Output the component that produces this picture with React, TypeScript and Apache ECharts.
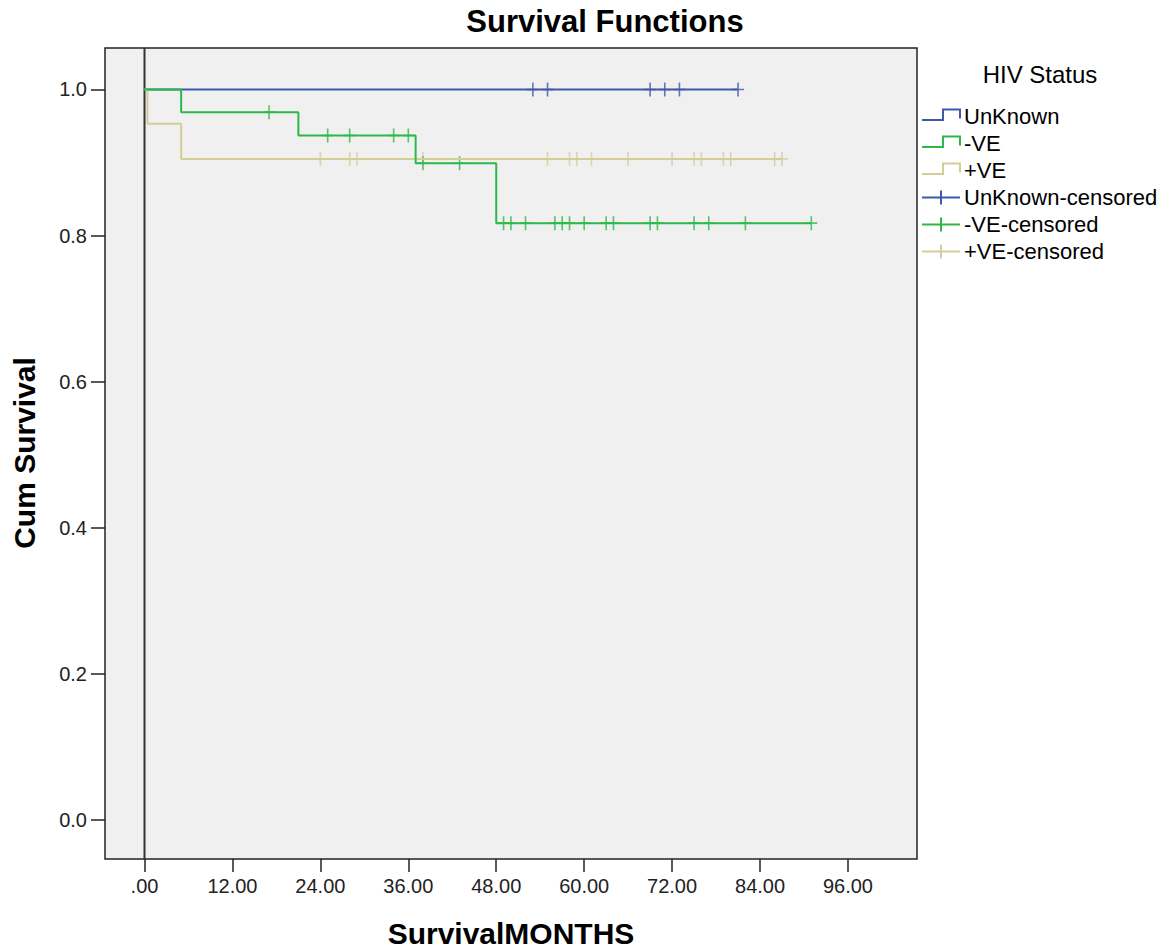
import React, { useEffect, useRef } from "react";
import * as echarts from "echarts";

// ---- Data ----
const xTicks = [0, 12, 24, 36, 48, 60, 72, 84, 96];
const yTicks = [0, 0.2, 0.4, 0.6, 0.8, 1.0];

const groupNames = ["UnKnown", "-VE", "+VE"];
const groupColors = ["#3E58AC", "#2EB848", "#D3CE97"];

// step curves: times at which the survival changes, and the survival from then on
const unknownTimes = [0, 81];
const unknownSurv = [1, 1];
const unknownCensored = [53, 55, 69, 71, 73, 81];

const negTimes = [0, 5, 21, 37, 48, 91];
const negSurv = [1, 0.969, 0.937, 0.899, 0.817, 0.817];
const negCensored = [17, 25, 28, 34, 36, 38, 43, 49, 50, 52, 56, 57, 58, 60, 63, 64, 69, 70, 75, 77, 82, 91];

const posTimes = [0, 0.4, 5, 87];
const posSurv = [1, 0.953, 0.905, 0.905];
const posCensored = [24, 28, 29, 38, 55, 58, 59, 61, 66, 72, 75, 76, 79, 80, 86, 87];

const X_MIN = -5.39;
const X_MAX = 105.42;
const Y_MIN = -0.0534;
const Y_MAX = 1.0568;

const FONT = "'Liberation Sans', Arial, sans-serif";
const PLUS =
  "path://M-0.8,-7 L0.8,-7 L0.8,-0.8 L6,-0.8 L6,0.8 L0.8,0.8 L0.8,7 L-0.8,7 L-0.8,0.8 L-6,0.8 L-6,-0.8 L-0.8,-0.8 Z";

function survAt(times: number[], surv: number[], t: number) {
  let v = surv[0];
  for (let i = 0; i < times.length; i++) {
    if (times[i] <= t) v = surv[i];
  }
  return v;
}

function stepSeries(times: number[], surv: number[], color: string) {
  return {
    type: "line",
    step: "end",
    data: times.map((t, i) => [t, surv[i]]),
    showSymbol: false,
    symbol: "none",
    lineStyle: { color, width: 2 },
    silent: true,
  };
}

function censorSeries(times: number[], surv: number[], cens: number[], color: string) {
  return {
    type: "scatter",
    data: cens.map((t) => [t, survAt(times, surv, t)]),
    symbol: PLUS,
    symbolSize: [12, 14],
    itemStyle: { color },
    silent: true,
  };
}

export default function App() {
  const ref = useRef<HTMLDivElement>(null);

  useEffect(() => {
    if (!ref.current) return;
    const chart = echarts.init(ref.current, undefined, { renderer: "svg" });

    const legendRows = [116.5, 143.5, 170.5, 197.5, 224.5, 251.5];
    const legendGraphics: any[] = [];
    legendGraphics.push({
      type: "text",
      x: 1040,
      y: 74,
      style: {
        text: "HIV Status",
        fill: "#000",
        font: `24px ${FONT}`,
        textAlign: "center",
        textVerticalAlign: "middle",
      },
    });
    groupNames.forEach((name, i) => {
      const yc = legendRows[i];
      legendGraphics.push({
        type: "polyline",
        shape: {
          points: [
            [922, yc + 3.5],
            [943, yc + 3.5],
            [943, yc - 7],
            [960, yc - 7],
            [960, yc + 2],
          ],
        },
        style: { stroke: groupColors[i], lineWidth: 2, fill: null },
      });
      legendGraphics.push({
        type: "text",
        x: 964,
        y: yc,
        style: {
          text: name,
          fill: "#000",
          font: `22px ${FONT}`,
          textAlign: "left",
          textVerticalAlign: "middle",
        },
      });
    });
    groupNames.forEach((name, i) => {
      const yc = legendRows[i + 3];
      legendGraphics.push({
        type: "line",
        shape: { x1: 922, y1: yc, x2: 960, y2: yc },
        style: { stroke: groupColors[i], lineWidth: 2 },
      });
      legendGraphics.push({
        type: "line",
        shape: { x1: 941, y1: yc - 7, x2: 941, y2: yc + 7 },
        style: { stroke: groupColors[i], lineWidth: 2 },
      });
      legendGraphics.push({
        type: "text",
        x: 964,
        y: yc,
        style: {
          text: name + "-censored",
          fill: "#000",
          font: `22px ${FONT}`,
          textAlign: "left",
          textVerticalAlign: "middle",
        },
      });
    });

    const option: any = {
      animation: false,
      backgroundColor: "#ffffff",
      grid: {
        left: 105,
        top: 48,
        width: 812,
        height: 811,
        show: true,
        backgroundColor: "#F0F0F0",
        borderColor: "#222",
        borderWidth: 1.5,
      },
      xAxis: {
        type: "value",
        min: X_MIN,
        max: X_MAX,
        axisLine: { show: false, onZero: false },
        splitLine: { show: false },
        axisTick: {
          show: true,
          customValues: xTicks,
          length: 13,
          lineStyle: { color: "#222", width: 1.5 },
        },
        axisLabel: {
          customValues: xTicks,
          margin: 17,
          color: "#222",
          fontSize: 20,
          fontFamily: FONT,
          formatter: (v: number) => (v === 0 ? ".00" : v.toFixed(2)),
        },
      },
      yAxis: {
        type: "value",
        min: Y_MIN,
        max: Y_MAX,
        axisLine: { show: false, onZero: false },
        splitLine: { show: false },
        axisTick: {
          show: true,
          customValues: yTicks,
          length: 14,
          lineStyle: { color: "#222", width: 1.5 },
        },
        axisLabel: {
          customValues: yTicks,
          margin: 18,
          color: "#222",
          fontSize: 20,
          fontFamily: FONT,
          formatter: (v: number) => v.toFixed(1),
        },
      },
      graphic: [
        {
          type: "text",
          x: 605,
          y: 21,
          style: {
            text: "Survival Functions",
            fill: "#000",
            font: `bold 31px ${FONT}`,
            textAlign: "center",
            textVerticalAlign: "middle",
          },
        },
        {
          type: "text",
          x: 511,
          y: 933,
          style: {
            text: "SurvivalMONTHS",
            fill: "#000",
            font: `bold 30px ${FONT}`,
            textAlign: "center",
            textVerticalAlign: "middle",
          },
        },
        {
          type: "text",
          x: 24,
          y: 453,
          rotation: Math.PI / 2,
          style: {
            text: "Cum Survival",
            fill: "#000",
            font: `bold 30px ${FONT}`,
            textAlign: "center",
            textVerticalAlign: "middle",
          },
        },
        ...legendGraphics,
      ],
      series: [
        {
          type: "line",
          data: [
            [0, Y_MIN],
            [0, Y_MAX],
          ],
          showSymbol: false,
          symbol: "none",
          lineStyle: { color: "#333", width: 2 },
          silent: true,
        },
        stepSeries(unknownTimes, unknownSurv, groupColors[0]),
        stepSeries(posTimes, posSurv, groupColors[2]),
        stepSeries(negTimes, negSurv, groupColors[1]),
        censorSeries(unknownTimes, unknownSurv, unknownCensored, groupColors[0]),
        censorSeries(posTimes, posSurv, posCensored, groupColors[2]),
        censorSeries(negTimes, negSurv, negCensored, groupColors[1]),
      ],
    };

    chart.setOption(option);
    return () => chart.dispose();
  }, []);

  return (
    <div
      ref={ref}
      style={{ position: "fixed", left: 0, top: 0, width: 1169, height: 950, background: "#fff" }}
    />
  );
}
